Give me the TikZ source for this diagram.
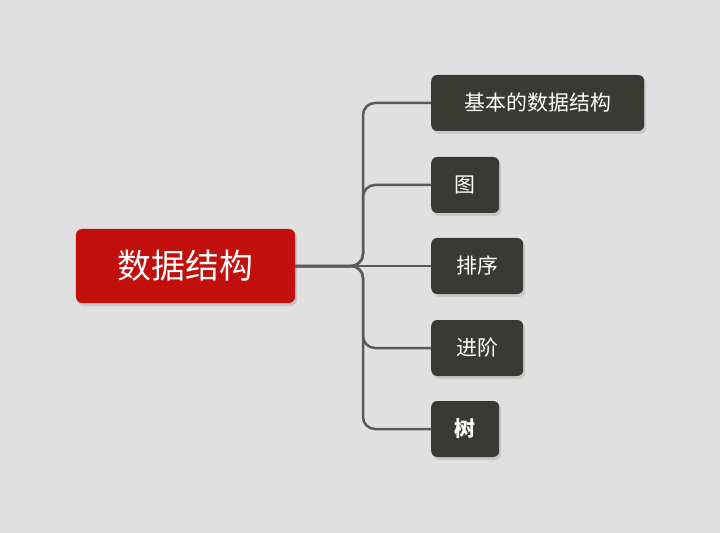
\documentclass[tikz,border=0pt]{standalone}
\usepackage{fontspec}
\newfontfamily\cjk{Noto Sans CJK SC}
\usetikzlibrary{shadows}
\definecolor{bg}{HTML}{E0E0E0}
\definecolor{rootred}{HTML}{C20F0B}
\definecolor{leaf}{HTML}{3A3A34}
\definecolor{wire}{HTML}{5A5A5A}
\tikzset{
 rootbox/.style={fill=rootred,rounded corners=6bp,minimum width=219bp,minimum height=74bp,text=white,font=\cjk\fontsize{34}{40}\selectfont,drop shadow={shadow xshift=2bp,shadow yshift=-3bp,opacity=0.25}},
 leafbox/.style={fill=leaf,rounded corners=6bp,minimum height=56bp,anchor=west,inner xsep=22bp,text=white,font=\cjk\fontsize{21}{25}\selectfont,drop shadow={shadow xshift=2bp,shadow yshift=-3bp,opacity=0.25}},
 wireline/.style={draw=wire,line width=2.5bp,rounded corners=12bp}
}
\begin{document}
\begin{tikzpicture}[x=1bp,y=-1bp]
\fill[bg] (0,0) rectangle (720,533);
\useasboundingbox (0,0) rectangle (720,533);
\coordinate (j) at (363,266);
\node[leafbox,minimum width=213bp] (c1) at (431,103) {基本的数据结构};
\node[leafbox,minimum width=68bp] (c2) at (431,185) {图};
\node[leafbox,minimum width=92bp] (c3) at (431,266) {排序};
\node[leafbox,minimum width=92bp] (c4) at (431,348) {进阶};
\node[leafbox,minimum width=68bp,font=\cjk\bfseries\fontsize{21}{25}\selectfont] (c5) at (431,429) {树};
\node[rootbox] (r) at (185.5,266) {数据结构};
\foreach \c in {c1,c2,c4,c5}{\draw[wireline] (r.east) -- (j) |- (\c.west);}
\draw[wireline] (r.east) -- (c3.west);
\end{tikzpicture}
\end{document}
